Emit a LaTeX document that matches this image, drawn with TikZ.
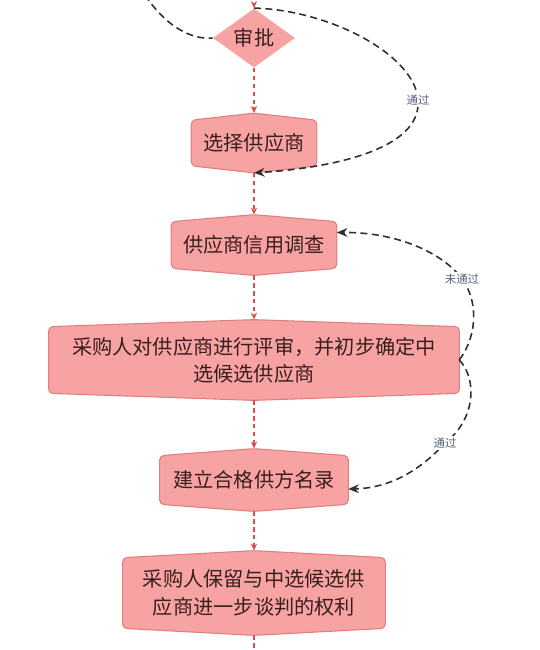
\documentclass[tikz,border=0pt]{standalone}
\usepackage{fontspec}
\setmainfont{Noto Sans CJK SC}
\usetikzlibrary{shapes.geometric}
\usetikzlibrary{arrows.meta}
\usetikzlibrary{backgrounds}

\definecolor{boxfill}{HTML}{F7A3A3}
\definecolor{boxline}{HTML}{E07D7D}
\definecolor{flowred}{HTML}{E04A4A}
\definecolor{loopgray}{HTML}{2F2F2F}
\definecolor{txt}{HTML}{3A1E1E}
\definecolor{lblgray}{HTML}{56627A}

\tikzset{
  stepnode/.style={rectangle,inner sep=0pt,text=txt,align=center,
    font=\fontsize{11.5}{15.5}\selectfont},
  checknode/.style={diamond,fill=boxfill,inner sep=0pt,text=txt,
    minimum width=1.64cm,minimum height=1.02cm,font=\fontsize{11.5}{15.5}\selectfont},
  mainflow/.style={flowred,line width=0.9pt,dash pattern=on 2.5pt off 2pt,
    -{Stealth[length=4pt,width=3.5pt]}},
  backflow/.style={loopgray,line width=0.9pt,dash pattern=on 4pt off 2.5pt,
    -{Stealth[length=6pt,width=5pt]}},
  flowlabel/.style={fill=white,inner sep=1pt,text=lblgray,font=\fontsize{6.5}{8}\selectfont},
}

\begin{document}
\begin{tikzpicture}[x=0.02cm,y=-0.02cm]
    \useasboundingbox (0,0) rectangle (540,650);

    % 流程节点
    \node[checknode] (sp) at (254,38) {审批};
    \node[stepnode,minimum width=2.5cm,minimum height=0.9cm] (xz) at (254,143) {选择供应商};
    \node[stepnode,minimum width=3.3cm,minimum height=0.92cm] (dc) at (254,245) {供应商信用调查};
    \node[stepnode,minimum width=8.2cm,minimum height=1.32cm] (ps) at (254,360)
        {采购人对供应商进行评审，并初步确定中\\选候选供应商};
    \node[stepnode,minimum width=3.76cm,minimum height=0.96cm] (ml) at (254,480) {建立合格供方名录};
    \node[stepnode,minimum width=5.24cm,minimum height=1.4cm] (bl) at (254,593)
        {采购人保留与中选候选供\\应商进一步谈判的权利};
    \coordinate (top) at (254,-5);
    \coordinate (bottom) at (254,660);
    \coordinate (loopin) at (145,-5);

    % 节点底色
    \begin{scope}[on background layer]
    \foreach \n in {xz,dc,ps,ml,bl}
        \draw[fill=boxfill,draw=boxline,line width=0.6pt,rounded corners=2.5pt]
            (\n.south west) -- (\n.north west) -- ([yshift=4pt]\n.north) -- (\n.north east)
            -- (\n.south east) -- ([yshift=-4pt]\n.south) -- cycle;
    \end{scope}

    % 主流程
    \draw[mainflow] (top) -- (sp.north);
    \draw[mainflow] (sp.south) -- ([yshift=4pt]xz.north);
    \draw[mainflow] ([yshift=-4pt]xz.south) -- ([yshift=4pt]dc.north);
    \draw[mainflow] ([yshift=-4pt]dc.south) -- ([yshift=4pt]ps.north);
    \draw[mainflow] ([yshift=-4pt]ps.south) -- ([yshift=4pt]ml.north);
    \draw[mainflow] ([yshift=-4pt]ml.south) -- ([yshift=4pt]bl.north);
    \draw[flowred,line width=0.9pt,dash pattern=on 2.5pt off 2pt] ([yshift=-4pt]bl.south) -- (bottom);

    % 回路
    \draw[loopgray,line width=0.9pt,dash pattern=on 4pt off 2.5pt]
        (loopin) .. controls (165,25) and (190,40) .. (sp.west);
    \draw[backflow] (sp.north) .. controls (330,10) and (415,55) .. (418,100)
        node[flowlabel] {通过} .. controls (422,150) and (330,168) .. ([yshift=-4pt]xz.south);
    \draw[backflow] (ps.east) .. controls (478,335) and (478,300) .. (462,279)
        node[flowlabel] {未通过} .. controls (445,255) and (400,232) .. ([yshift=0.25cm]dc.east);
    \draw[backflow] (ps.east) .. controls (478,380) and (475,420) .. (445,443)
        node[flowlabel] {通过} .. controls (425,465) and (395,488) .. ([yshift=-0.18cm]ml.east);
\end{tikzpicture}
\end{document}
